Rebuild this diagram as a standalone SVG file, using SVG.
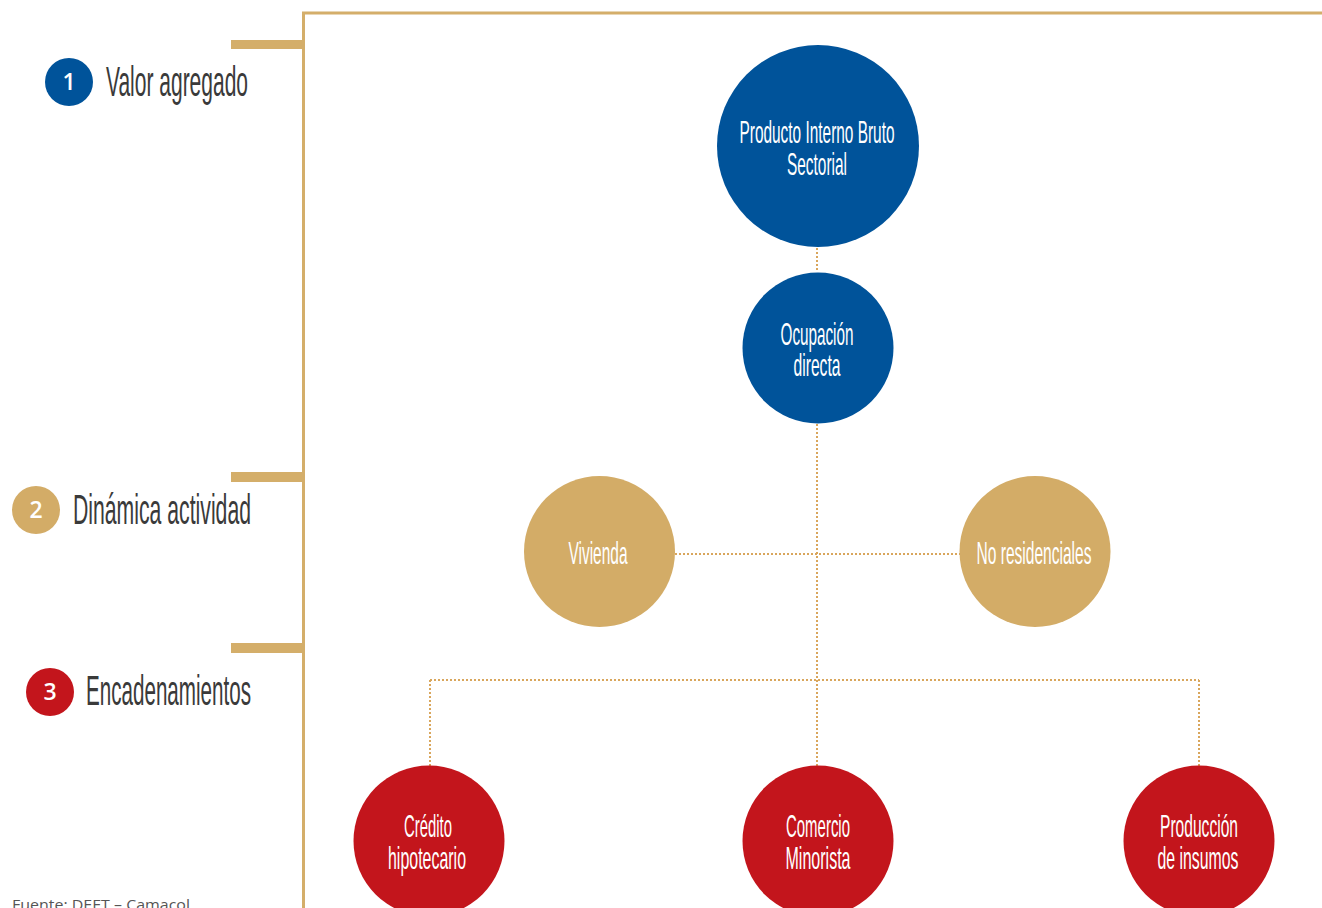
<svg xmlns="http://www.w3.org/2000/svg" width="1322" height="908" viewBox="0 0 1322 908">
<style>
.blue{fill:#00539A}
.gold{fill:#D3AC67}
.red{fill:#C3151C}
.nt{font-family:"Liberation Sans",Arial,sans-serif;font-size:32px;fill:#fff;text-anchor:middle}
.lt{font-family:"Liberation Sans",Arial,sans-serif;font-size:42px;fill:#3a3a3a}
.num{font-family:"Open Sans","Liberation Sans",sans-serif;font-size:23px;font-weight:600;fill:#fff;text-anchor:middle}
.dot{fill:none;stroke:#D9A65C;stroke-width:2;stroke-dasharray:2 2}
.frame{fill:none;stroke:#D4AE6A;stroke-width:3}
.tick{fill:#D4AE6A}
</style>
<rect width="1322" height="908" fill="#fff"/>
<g id="frame">
<path class="frame" d="M1322,13 H303.5 V908"/>
<rect class="tick" x="231" y="40" width="72" height="9"/>
<rect class="tick" x="231" y="472" width="72" height="10"/>
<rect class="tick" x="231" y="643" width="72" height="10"/>
</g>
<g id="legend-1">
<circle class="blue" cx="69" cy="82" r="24"/>
<text class="num" x="69" y="90">1</text>
<text class="lt" x="106" y="96" textLength="142" lengthAdjust="spacingAndGlyphs">Valor agregado</text>
</g>
<g id="legend-2">
<circle class="gold" cx="36" cy="510" r="24"/>
<text class="num" x="36" y="518">2</text>
<text class="lt" x="73" y="524" textLength="178" lengthAdjust="spacingAndGlyphs">Dinámica actividad</text>
</g>
<g id="legend-3">
<circle class="red" cx="50" cy="692" r="24"/>
<text class="num" x="50" y="700">3</text>
<text class="lt" x="86" y="705" textLength="165" lengthAdjust="spacingAndGlyphs">Encadenamientos</text>
</g>
<g id="connectors">
<path class="dot" d="M817,248 V272"/>
<path class="dot" d="M817,424 V766"/>
<path class="dot" d="M675,554 H960"/>
<path class="dot" d="M430,680 H1199"/>
<path class="dot" d="M430,680 V766"/>
<path class="dot" d="M1199,680 V766"/>
</g>
<g id="node-pib">
<circle class="blue" cx="818" cy="146" r="101"/>
<text class="nt" x="817" y="143" textLength="155" lengthAdjust="spacingAndGlyphs">Producto Interno Bruto</text>
<text class="nt" x="817" y="175" textLength="60" lengthAdjust="spacingAndGlyphs">Sectorial</text>
</g>
<g id="node-ocupacion">
<circle class="blue" cx="818" cy="348" r="75.5"/>
<text class="nt" x="817" y="345" textLength="73" lengthAdjust="spacingAndGlyphs">Ocupación</text>
<text class="nt" x="817" y="376" textLength="47" lengthAdjust="spacingAndGlyphs">directa</text>
</g>
<g id="node-vivienda">
<circle class="gold" cx="599.5" cy="551.5" r="75.5"/>
<text class="nt" x="598" y="564" textLength="59" lengthAdjust="spacingAndGlyphs">Vivienda</text>
</g>
<g id="node-noresidenciales">
<circle class="gold" cx="1035" cy="551.5" r="75.5"/>
<text class="nt" x="1034" y="564" textLength="115" lengthAdjust="spacingAndGlyphs">No residenciales</text>
</g>
<g id="node-credito">
<circle class="red" cx="429" cy="841" r="75.5"/>
<text class="nt" x="428" y="837" textLength="48" lengthAdjust="spacingAndGlyphs">Crédito</text>
<text class="nt" x="427" y="869" textLength="78" lengthAdjust="spacingAndGlyphs">hipotecario</text>
</g>
<g id="node-comercio">
<circle class="red" cx="818" cy="841" r="75.5"/>
<text class="nt" x="818" y="837" textLength="64" lengthAdjust="spacingAndGlyphs">Comercio</text>
<text class="nt" x="818" y="869" textLength="65" lengthAdjust="spacingAndGlyphs">Minorista</text>
</g>
<g id="node-produccion">
<circle class="red" cx="1199" cy="841" r="75.5"/>
<text class="nt" x="1199" y="837" textLength="78" lengthAdjust="spacingAndGlyphs">Producción</text>
<text class="nt" x="1198" y="869" textLength="81" lengthAdjust="spacingAndGlyphs">de insumos</text>
</g>
<text x="12" y="910" font-family="'Open Sans','Liberation Sans',sans-serif" font-size="15" fill="#555" textLength="178" lengthAdjust="spacingAndGlyphs">Fuente: DEET – Camacol</text>
</svg>
